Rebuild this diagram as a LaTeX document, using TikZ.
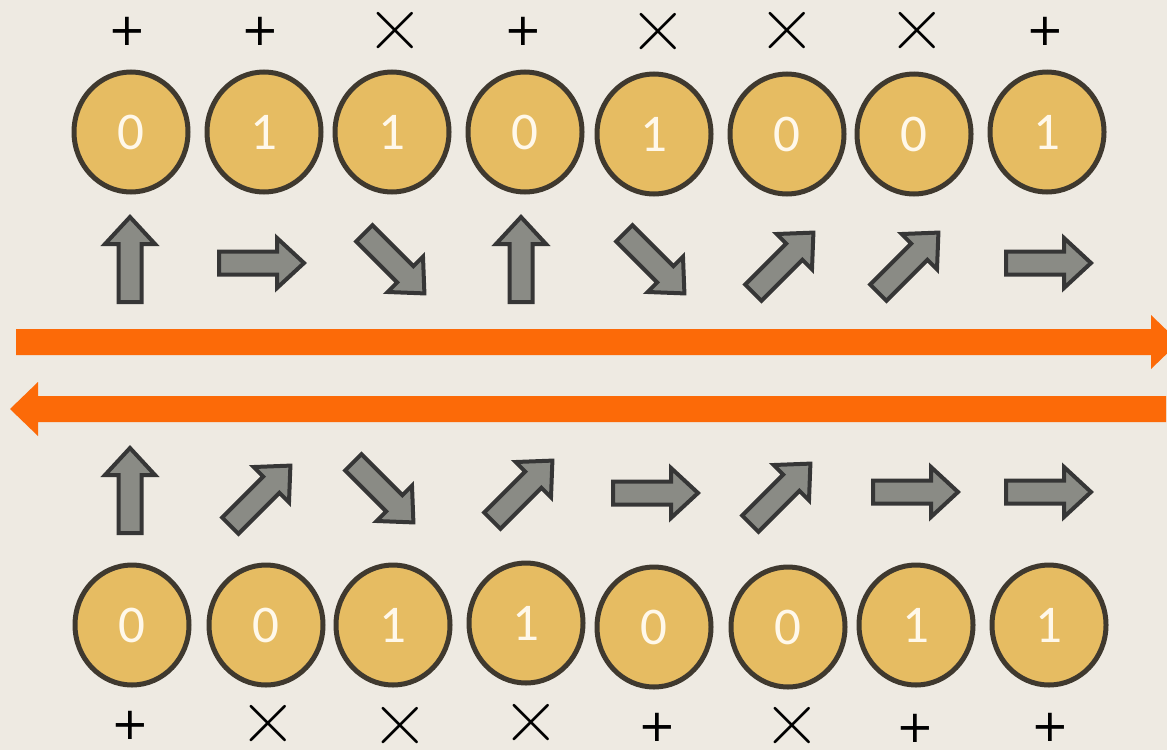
\documentclass[tikz,border=0pt]{standalone}
\usepackage{fontspec}
\usetikzlibrary{shapes.geometric}
\newfontfamily\digitfont{Carlito}
\newfontfamily\symfont{DejaVu Sans}
\newfontfamily\timesfont{Latin Modern Roman}
\definecolor{bg}{HTML}{EEEAE2}
\definecolor{coinfill}{HTML}{E6BC62}
\definecolor{coinline}{HTML}{3F392F}
\definecolor{grayfill}{HTML}{8A8B85}
\definecolor{grayline}{HTML}{363636}
\definecolor{orng}{HTML}{FC6A08}
\definecolor{digitcol}{HTML}{FFF8EA}
\tikzset{
  coin/.style={ellipse, draw=coinline, fill=coinfill, line width=5pt,
    minimum width=114pt, minimum height=120pt, inner sep=0pt,
    text=digitcol, font=\digitfont\fontsize{53}{53}\selectfont},
  plussym/.style={inner sep=0pt, text=black, font=\symfont\fontsize{45}{45}\selectfont},
  timessym/.style={inner sep=0pt, text=black, font=\timesfont\fontsize{80}{80}\selectfont},
  garrowline/.style={draw=grayline, fill=grayfill, line width=4pt, line join=miter},
  garrow/.pic={\path[garrowline] (-42,-11.5) -- (16,-11.5) -- (16,-25) -- (43,0) -- (16,25) -- (16,11.5) -- (-42,11.5) -- cycle;},
  orangebar/.style={fill=orng}
}
\begin{document}
\begin{tikzpicture}[x=1pt,y=-1pt]
\fill[bg] (0,0) rectangle (1167,750);
\useasboundingbox (0,0) rectangle (1167,750);
% orange arrows
\begin{scope}
\clip (0,0) rectangle (1167,750);
\fill[orangebar] (16,329) -- (1151,329) -- (1151,315) -- (1179,342) -- (1151,369) -- (1151,355) -- (16,355) -- cycle;
\fill[orangebar] (1166,396) -- (38,396) -- (38,382) -- (10,409) -- (38,436) -- (38,422) -- (1166,422) -- cycle;
\end{scope}
% top symbols
\node[plussym]  (ts1) at (127,31) {+};
\node[plussym]  (ts2) at (260,31) {+};
\node[timessym] (ts3) at (395,31) {×};
\node[plussym]  (ts4) at (523,31) {+};
\node[timessym] (ts5) at (658,32) {×};
\node[timessym] (ts6) at (787,31) {×};
\node[timessym] (ts7) at (917,31) {×};
\node[plussym]  (ts8) at (1045,31) {+};
% top coins
\node[coin] (tc1) at (131,132) {0};
\node[coin] (tc2) at (264,132) {1};
\node[coin] (tc3) at (392,132) {1};
\node[coin] (tc4) at (525,132) {0};
\node[coin] (tc5) at (654,134) {1};
\node[coin] (tc6) at (787,134) {0};
\node[coin] (tc7) at (914,134) {0};
\node[coin] (tc8) at (1047,132) {1};
% top gray arrows
\pic[rotate=90]  (ta1) at (130,260) {garrow};
\pic             (ta2) at (261,263) {garrow};
\pic[rotate=-45] (ta3) at (394,263) {garrow};
\pic[rotate=90]  (ta4) at (521,260) {garrow};
\pic[rotate=-45] (ta5) at (654,263) {garrow};
\pic[rotate=45]  (ta6) at (783,263) {garrow};
\pic[rotate=45]  (ta7) at (908,263) {garrow};
\pic             (ta8) at (1048,263) {garrow};
% bottom gray arrows
\pic[rotate=90]  (ba1) at (130,491) {garrow};
\pic[rotate=45]  (ba2) at (260,496) {garrow};
\pic[rotate=-45] (ba3) at (383,492) {garrow};
\pic[rotate=45]  (ba4) at (522,491) {garrow};
\pic             (ba5) at (655,493) {garrow};
\pic[rotate=45]  (ba6) at (780,494) {garrow};
\pic             (ba7) at (915,492) {garrow};
\pic             (ba8) at (1048,492) {garrow};
% bottom coins
\node[coin] (bc1) at (132,625) {0};
\node[coin] (bc2) at (266,625) {0};
\node[coin] (bc3) at (393,625) {1};
\node[coin] (bc4) at (526,623) {1};
\node[coin] (bc5) at (654,627) {0};
\node[coin] (bc6) at (788,627) {0};
\node[coin] (bc7) at (916,625) {1};
\node[coin] (bc8) at (1049,625) {1};
% bottom symbols
\node[plussym]  (bs1) at (130,725) {+};
\node[timessym] (bs2) at (268,724) {×};
\node[timessym] (bs3) at (400,726) {×};
\node[timessym] (bs4) at (531,723) {×};
\node[plussym]  (bs5) at (657,727) {+};
\node[timessym] (bs6) at (792,726) {×};
\node[plussym]  (bs7) at (915,728) {+};
\node[plussym]  (bs8) at (1050,727) {+};
\end{tikzpicture}
\end{document}
